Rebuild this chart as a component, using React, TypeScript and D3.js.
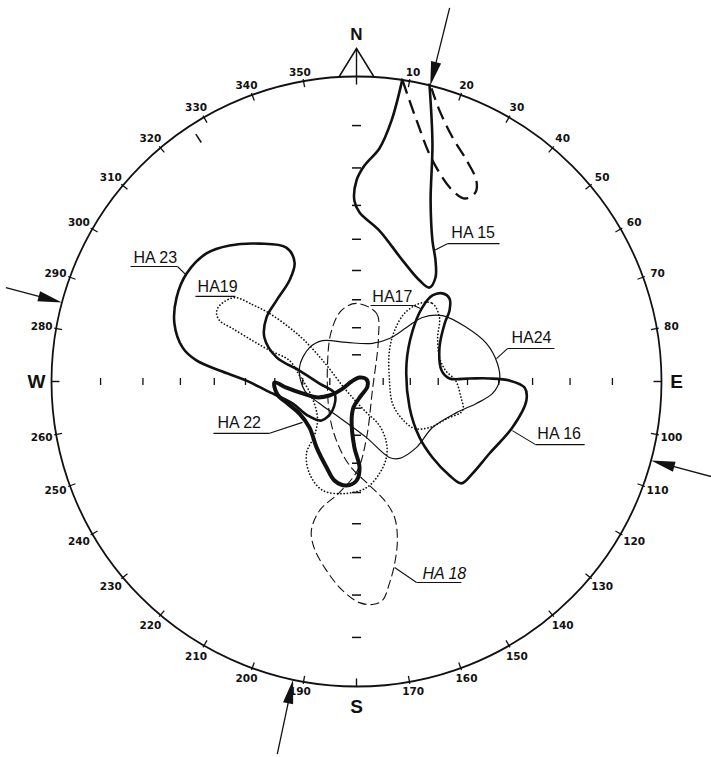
import React from 'react';
import * as d3 from 'd3';

// net units: radius of primitive circle = 100, x to the east, y to the north
const HA15 = [[15.1, 99.3], [11.5, 85.6], [7.5, 76.4], [2.6, 70.8], [0, 65.9], [-0.7, 59.3], [1.0, 55.4], [7.5, 49.5], [15.1, 39.7], [20.7, 33.1], [23.9, 30.8], [25.9, 34.1], [25.9, 39.7], [24.9, 46.2], [24.3, 59.3], [24.9, 78.0], [23.9, 97.7]];
const HA15B = [[15.1, 98.7], [19.7, 85.6], [24.9, 72.5], [31.5, 62.6], [35.7, 60.0], [39.0, 62.0], [39.3, 65.9], [36.1, 72.5], [31.5, 80.0], [27.2, 88.9], [24.6, 96.1]];
const HA23 = [[-55.7, 35.4], [-49.2, 42.0], [-41.6, 44.6], [-31.8, 45.2], [-23.0, 43.9], [-20.3, 39.0], [-22.0, 33.1], [-26.2, 26.6], [-29.5, 21.0], [-30.2, 14.4], [-26.2, 7.9], [-18.7, 3.6], [-12.1, -0.7], [-7.2, -3.9], [-7.9, -9.5], [-11.5, -12.8], [-16.1, -11.1], [-21.0, -7.2], [-29.5, -3.0], [-36.1, 0.3], [-44.9, 3.6], [-52.5, 6.9], [-57.0, 11.1], [-59.7, 19.0], [-59.0, 27.5]];
const HA19 = [[-40.0, 27.5], [-34.1, 25.2], [-28.5, 22.3], [-22.0, 17.7], [-17.0, 13.4], [-10.5, 6.2], [-3.3, -3.0], [2.6, -9.5], [7.5, -14.4], [9.8, -20.0], [9.8, -24.9], [7.5, -30.2], [3.3, -34.8], [-3.3, -36.7], [-11.1, -35.7], [-15.4, -30.2], [-16.4, -23.6], [-13.8, -17.7], [-12.8, -12.1], [-14.8, -4.6], [-18.7, 2.0], [-22.0, 6.9], [-28.5, 10.2], [-34.1, 13.4], [-40.7, 17.4], [-44.9, 20.0], [-45.9, 22.6], [-44.9, 24.9]];
const HA17DOT = [[20.7, 25.6], [24.9, 25.6], [27.2, 21.0], [26.6, 14.4], [27.2, 7.9], [29.2, 3.6], [32.5, 0.3], [34.1, -4.6], [34.8, -9.5], [29.8, -12.1], [23.9, -15.1], [19.0, -15.4], [14.8, -12.1], [11.8, -7.2], [10.8, 0.3], [10.8, 10.2], [12.5, 16.7], [15.7, 22.3]];
const HA17_18 = [[0, 25.6], [6.6, 22.3], [7.2, 14.4], [5.2, -3.0], [3.3, -18.4], [0.3, -29.2], [-5.6, -36.4], [-12.1, -42.3], [-14.8, -48.9], [-13.8, -54.8], [-9.8, -62.0], [-4.6, -68.5], [1.0, -72.5], [5.2, -73.1], [8.5, -71.8], [10.8, -66.2], [12.5, -59.7], [13.4, -52.1], [12.5, -44.6], [9.2, -39.0], [4.3, -34.1], [-2.3, -27.5], [-6.6, -19.3], [-8.9, -10.5], [-9.5, 5.9], [-8.2, 16.7], [-4.9, 23.3]];
const HA24 = [[-18.7, 4.6], [-15.4, 11.1], [-11.1, 13.4], [-3.3, 12.8], [5.2, 12.5], [10.8, 14.1], [16.4, 17.7], [21.6, 21.0], [28.2, 21.6], [36.1, 17.7], [42.6, 12.5], [46.2, 5.9], [46.9, 0.3], [44.6, -3.9], [39.3, -7.2], [32.8, -10.2], [24.9, -15.1], [19.7, -21.6], [14.1, -25.2], [10.8, -24.9], [3.3, -18.4], [-5.6, -11.8], [-12.1, -7.2], [-17.0, -3.0]];
const HA16 = [[24.9, 28.2], [21.6, 24.3], [18.4, 16.7], [16.4, 5.9], [17.4, -8.5], [20.7, -18.4], [24.9, -24.9], [30.5, -30.8], [34.4, -33.4], [38.0, -30.2], [43.6, -23.6], [51.1, -15.1], [55.7, -6.2], [55.1, -2.0], [50.2, 0.3], [43.6, 1.0], [37.0, 1.0], [30.5, 1.0], [27.9, 3.6], [27.2, 11.1], [28.9, 19.0], [30.5, 23.3], [30.5, 27.2], [28.2, 28.9]];
const HA22 = [[-26.9, -0.3], [-23.0, -2.0], [-17.7, -3.9], [-13.1, -5.2], [-8.9, -4.6], [-4.9, -2.6], [-1.6, 0], [1.0, 1.3], [3.3, 0.7], [3.6, -1.6], [1.3, -4.9], [-1.0, -8.5], [-1.6, -12.8], [-0.7, -21.6], [1.0, -28.2], [0, -32.5], [-3.3, -34.1], [-7.2, -32.5], [-9.8, -28.2], [-13.1, -21.6], [-15.4, -15.1], [-18.7, -10.5], [-22.6, -7.2], [-25.9, -4.3]];

// label: text, text left, baseline, underline x1, x2, y, leader target
const LABELS: [string, number, number, number, number, number, number, number][] = [
  ['HA 15', 31.1, 46.9, 29.8, 46.9, 45.2, 25.6, 43.0],
  ['HA 23', -73.1, 39.0, -74.1, -58.7, 37.7, -55.7, 34.8],
  ['HA19', -52.1, 29.2, -52.8, -39.7, 27.9, -39.7, 27.9],
  ['HA17', 5.2, 26.2, 4.6, 18.7, 24.9, 21.0, 23.9],
  ['HA24', 50.8, 12.5, 49.5, 64.9, 10.8, 45.9, 7.5],
  ['HA 22', -45.6, -15.4, -46.9, -28.5, -17.0, -17.7, -13.4],
  ['HA 16', 59.3, -19.0, 58.7, 74.8, -20.7, 51.1, -16.1],
  ['HA 18', 21.6, -64.6, 19.7, 34.4, -65.9, 12.5, -61.0],
];

const DIPS = [10, 20, 30, 40, 50, 60, 70, 80];
const AZIMUTHS = d3.range(10, 360, 10).filter(a => a % 90 !== 0);
const CARDINALS: [string, number][] = [['N', 0], ['E', 90], ['S', 180], ['W', 270]];
const ARROWS: [number, number][] = [[14, 80], [105, 66], [192, 76], [285, 58]];
const EXTRA_TICKS = [327];

const CX = 356.5, CY = 381.5, R = 305;
const x = d3.scaleLinear().domain([-100, 100]).range([CX - R, CX + R]);
const y = d3.scaleLinear().domain([-100, 100]).range([CY + R, CY - R]);

const rad = (a: number) => (a * Math.PI) / 180;
// pixel point at azimuth a, distance d px from centre
const pol = (a: number, d: number): [number, number] => [CX + d * Math.sin(rad(a)), CY - d * Math.cos(rad(a))];

const closedLine = d3.line<number[]>().x(d => x(d[0])).y(d => y(d[1])).curve(d3.curveCatmullRomClosed.alpha(0.5));
const openLine = d3.line<number[]>().x(d => x(d[0])).y(d => y(d[1])).curve(d3.curveCatmullRom.alpha(0.5));

const SHAPES = [
  { pts: HA24, closed: true, w: 1.2, dash: undefined },
  { pts: HA17_18, closed: true, w: 1.1, dash: '9,4' },
  { pts: HA19, closed: true, w: 1.7, dash: '0.1,3.2' },
  { pts: HA17DOT, closed: true, w: 1.7, dash: '0.1,3.2' },
  { pts: HA15B, closed: false, w: 2.3, dash: '14,7' },
  { pts: HA15, closed: false, w: 2.6, dash: undefined },
  { pts: HA23, closed: true, w: 2.6, dash: undefined },
  { pts: HA16, closed: true, w: 2.6, dash: undefined },
  { pts: HA22, closed: true, w: 4, dash: undefined },
];

const App: React.FC = () => {
  const ink = '#111';
  return (
    <svg width={711} height={757} viewBox="0 0 711 757" style={{ display: 'block', position: 'absolute', left: 0, top: 0, background: '#fff' }}>
      <rect width={711} height={757} fill="#fff" />
      {/* primitive circle */}
      <circle cx={CX} cy={CY} r={R} fill="none" stroke={ink} strokeWidth={1.8} />

      {/* azimuth ticks and labels */}
      {AZIMUTHS.map(a => {
        const [x1, y1] = pol(a, R - 6);
        const [x2, y2] = pol(a, R + 2);
        const s = Math.abs(Math.sin(rad(a))), c = Math.abs(Math.cos(rad(a)));
        const [lx, ly] = pol(a, R + 3 + 9 * s + 5 * c);
        const shift = Math.sin(rad(a)) > 0.05 ? 2 : Math.sin(rad(a)) < -0.05 ? -2 : 0;
        return (
          <g key={a}>
            <line x1={x1} y1={y1} x2={x2} y2={y2} stroke={ink} strokeWidth={1.3} />
            <text x={lx + shift} y={ly} textAnchor="middle" dominantBaseline="central" fontFamily="DejaVu Sans" fontWeight="bold" fontSize={10.5} fill={ink}>{a}</text>
          </g>
        );
      })}
      {EXTRA_TICKS.map(a => {
        const [x1, y1] = pol(a, R - 20);
        const [x2, y2] = pol(a, R - 10);
        return <line key={a} x1={x1} y1={y1} x2={x2} y2={y2} stroke={ink} strokeWidth={1.5} />;
      })}

      {/* cardinal ticks */}
      {CARDINALS.map(([t, a]) => {
        const [x1, y1] = pol(a, R - 8);
        const [x2, y2] = pol(a, a === 0 ? R + 28 : R);
        const lp = a === 0 ? pol(0, R + 42) : a === 180 ? pol(180, R + 20) : pol(a, R + 15);
        return (
          <g key={t}>
            <line x1={x1} y1={y1} x2={x2} y2={y2} stroke={ink} strokeWidth={1.4} />
            <text x={lp[0]} y={lp[1]} textAnchor="middle" dominantBaseline="central" fontFamily="Liberation Sans" fontWeight="bold" fontSize={a === 0 ? 17 : 19} fill={ink}>{t}</text>
          </g>
        );
      })}
      {/* north triangle */}
      <polyline points={[pol(-3.3, R), pol(0, R + 28), pol(3.3, R)].map(p => p.join(',')).join(' ')} fill="none" stroke={ink} strokeWidth={1.5} />

      {/* dip ticks on the axes (stereographic spacing) */}
      {DIPS.map(d => {
        const r = 100 * Math.tan(rad(d / 2));
        return (
          <g key={d}>
            {[-1, 1].map(sg => (
              <React.Fragment key={sg}>
                <line x1={x(sg * r)} x2={x(sg * r)} y1={y(0) - 3.5} y2={y(0) + 3.5} stroke={ink} strokeWidth={1.3} />
                <line x1={x(0) - 4.5} x2={x(0) + 4.5} y1={y(sg * r)} y2={y(sg * r)} stroke={ink} strokeWidth={1.5} />
              </React.Fragment>
            ))}
          </g>
        );
      })}

      {/* arrows */}
      {ARROWS.map(([a, len]) => {
        const tip = pol(a, R);
        const b1 = pol(a - 0.9, R + 24);
        const b2 = pol(a + 0.9, R + 24);
        const s = pol(a, R + 18);
        const e = pol(a, R + len);
        return (
          <g key={a}>
            <line x1={s[0]} y1={s[1]} x2={e[0]} y2={e[1]} stroke={ink} strokeWidth={1.3} />
            <polygon points={[tip, b1, b2].map(p => p.join(',')).join(' ')} fill={ink} />
          </g>
        );
      })}

      {/* contours */}
      {SHAPES.map((sh, i) => (
        <path key={i} d={(sh.closed ? closedLine : openLine)(sh.pts) || ''} fill="none" stroke={ink}
          strokeWidth={sh.w} strokeDasharray={sh.dash} strokeLinecap={sh.dash && sh.dash.startsWith('0.1') ? 'round' : 'butt'} strokeLinejoin="round" />
      ))}

      {/* labels */}
      {LABELS.map(([t, tx, ty, u1, u2, uy, px, py]) => {
        const lx = Math.abs(px - u1) < Math.abs(px - u2) ? u1 : u2;
        return (
          <g key={t}>
            <text x={x(tx)} y={y(ty)} fontFamily="Liberation Sans" fontSize={16} fontStyle={t === 'HA 18' ? 'italic' : 'normal'} fill={ink}>{t}</text>
            <line x1={x(u1)} x2={x(u2)} y1={y(uy)} y2={y(uy)} stroke={ink} strokeWidth={1.1} />
            <line x1={x(lx)} y1={y(uy)} x2={x(px)} y2={y(py)} stroke={ink} strokeWidth={1.1} />
          </g>
        );
      })}
    </svg>
  );
};

export default App;
